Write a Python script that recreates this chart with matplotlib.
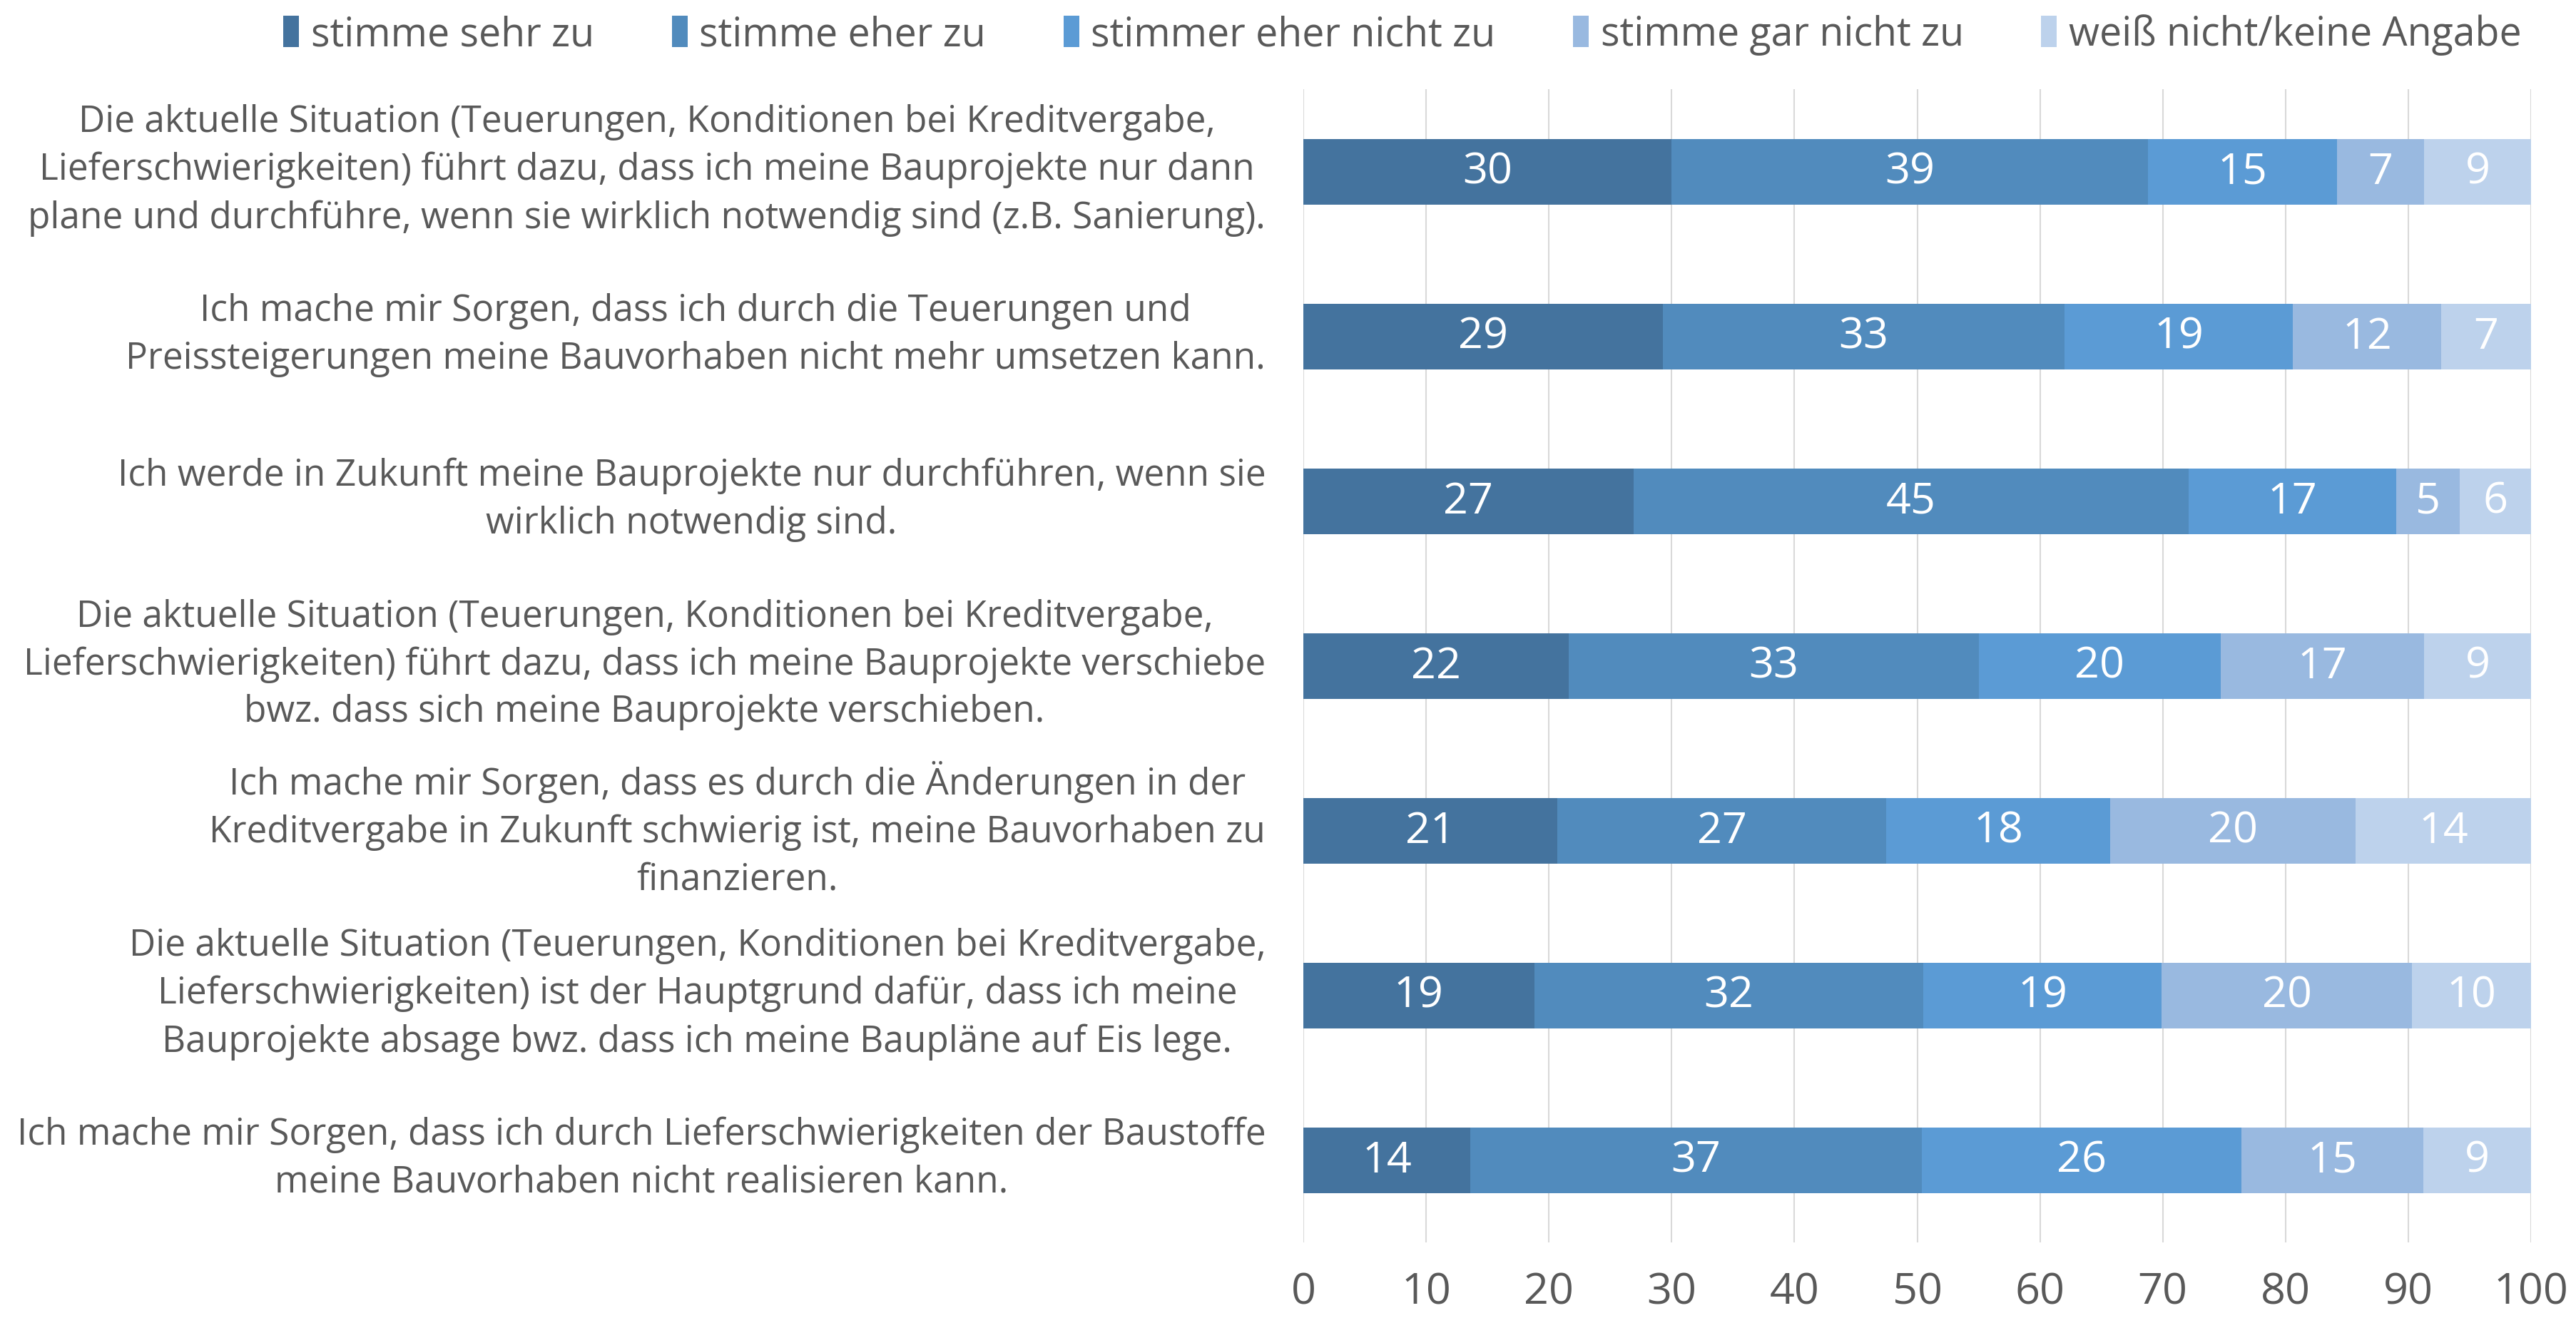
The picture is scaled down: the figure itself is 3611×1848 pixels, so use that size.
import numpy as np
import matplotlib.pyplot as plt
from matplotlib import transforms

plt.rcParams['font.family'] = ['Open Sans', 'DejaVu Sans']

statements = [
    "Die aktuelle Situation (Teuerungen, Konditionen bei Kreditvergabe,\nLieferschwierigkeiten) führt dazu, dass ich meine Bauprojekte nur dann\nplane und durchführe, wenn sie wirklich notwendig sind (z.B. Sanierung).",
    "Ich mache mir Sorgen, dass ich durch die Teuerungen und\nPreissteigerungen meine Bauvorhaben nicht mehr umsetzen kann.",
    "Ich werde in Zukunft meine Bauprojekte nur durchführen, wenn sie\nwirklich notwendig sind.",
    "Die aktuelle Situation (Teuerungen, Konditionen bei Kreditvergabe,\nLieferschwierigkeiten) führt dazu, dass ich meine Bauprojekte verschiebe\nbwz. dass sich meine Bauprojekte verschieben.",
    "Ich mache mir Sorgen, dass es durch die Änderungen in der\nKreditvergabe in Zukunft schwierig ist, meine Bauvorhaben zu\nfinanzieren.",
    "Die aktuelle Situation (Teuerungen, Konditionen bei Kreditvergabe,\nLieferschwierigkeiten) ist der Hauptgrund dafür, dass ich meine\nBauprojekte absage bwz. dass ich meine Baupläne auf Eis lege.",
    "Ich mache mir Sorgen, dass ich durch Lieferschwierigkeiten der Baustoffe\nmeine Bauvorhaben nicht realisieren kann.",
]

answers = ["stimme sehr zu", "stimme eher zu", "stimmer eher nicht zu",
           "stimme gar nicht zu", "weiß nicht/keine Angabe"]

# percentages per statement, one list per answer category
sehr_zu = [30.0, 29.3, 26.9, 21.6, 20.7, 18.8, 13.6]
eher_zu = [38.8, 32.7, 45.2, 33.4, 26.8, 31.7, 36.8]
eher_nicht = [15.4, 18.6, 16.9, 19.7, 18.2, 19.4, 26.0]
gar_nicht = [7.1, 12.1, 5.2, 16.6, 20.0, 20.4, 14.8]
weiss_nicht = [8.7, 7.3, 5.8, 8.8, 14.3, 9.7, 8.8]

colors = ["#44739e", "#518bbd", "#5b9bd5", "#99b9e0", "#bdd2ec"]
grey = "#595959"

series = [sehr_zu, eher_zu, eher_nicht, gar_nicht, weiss_nicht]

fig = plt.figure(figsize=(36.12, 18.49), dpi=100)
ax = fig.add_axes([0.5058, 0.0571, 0.4765, 0.8745])

y = np.arange(len(statements))
left = np.zeros(len(statements))
for vals, col, name in zip(series, colors, answers):
    vals = np.array(vals)
    bars = ax.barh(y, vals, left=left, height=0.4, color=col, label=name, zorder=3)
    ax.bar_label(bars, labels=[f"{v:.0f}" for v in vals], label_type='center',
                 color='white', fontsize=44)
    left += vals

ax.set_xlim(0, 100)
ax.set_ylim(len(statements) - 0.5, -0.5)
ax.set_xticks(np.arange(0, 101, 10))
ax.set_yticks(y)
ax.set_yticklabels(statements, fontsize=37, color=grey, multialignment='center',
                   linespacing=1.4, va='center')
ax.tick_params(axis='y', length=0, pad=38)
ax.tick_params(axis='x', length=0, pad=28, labelsize=44, labelcolor=grey)
ax.grid(axis='x', color='#d9d9d9', linewidth=1.5, zorder=0)
for s in ax.spines.values():
    s.set_visible(False)

# shift the wrapped statements up slightly so they sit centred on the bars
shift = transforms.ScaledTranslation(0, 0.03, fig.dpi_scale_trans)
for lbl in ax.get_yticklabels():
    lbl.set_transform(lbl.get_transform() + shift)

fig.legend(loc='upper center', bbox_to_anchor=(0.5443, 1.004), ncol=5, frameon=False,
           fontsize=40, labelcolor=grey, handlelength=0.4, handleheight=0.85,
           handletextpad=0.3, columnspacing=1.95, borderaxespad=0.1)

fig.savefig("out.png", dpi=100)
